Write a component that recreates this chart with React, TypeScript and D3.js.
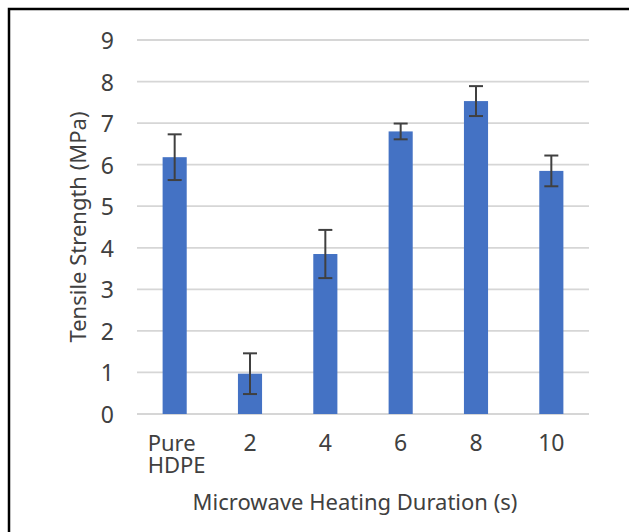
import React from "react";
import { scaleBand, scaleLinear } from "d3";

const categories = ["Pure HDPE", "2", "4", "6", "8", "10"];
const strength = [6.18, 0.97, 3.85, 6.8, 7.53, 5.85];
const errors = [0.55, 0.49, 0.58, 0.19, 0.36, 0.37];
const yTicks = [0, 1, 2, 3, 4, 5, 6, 7, 8, 9];

const W = 629;
const H = 532;
const margin = { top: 40, right: 40, bottom: 118, left: 137 };

export default function App() {
  const x = scaleBand()
    .domain(categories)
    .range([margin.left, W - margin.right])
    .paddingInner(0.68)
    .paddingOuter(0.34);

  const y = scaleLinear()
    .domain([0, 9])
    .range([H - margin.bottom, margin.top]);

  const font = "'Noto Sans', 'Open Sans', sans-serif";
  const textColor = "#404040";
  const capW = 7;

  return (
    <svg
      width={W}
      height={H}
      style={{ position: "absolute", left: 0, top: 0, background: "#fff" }}
      fontFamily={font}
    >
      {/* frame, cropped on right and bottom */}
      <rect x={9} y={9} width={W + 20} height={H + 20} fill="none" stroke="#000" strokeWidth={2.5} />

      {/* gridlines */}
      {yTicks.map((t) => (
        <line
          key={t}
          x1={margin.left}
          x2={W - margin.right}
          y1={y(t)}
          y2={y(t)}
          stroke="#d6d6d6"
          strokeWidth={1.8}
        />
      ))}

      {/* y tick labels */}
      {yTicks.map((t) => (
        <text
          key={t}
          x={114}
          y={y(t)}
          textAnchor="end"
          dominantBaseline="central"
          fontSize={23}
          fill={textColor}
        >
          {t}
        </text>
      ))}

      {/* bars */}
      {categories.map((c, i) => (
        <rect
          key={c}
          x={x(c)}
          y={y(strength[i])}
          width={x.bandwidth()}
          height={y(0) - y(strength[i])}
          fill="#4472C4"
        />
      ))}

      {/* error bars */}
      {categories.map((c, i) => {
        const cx = (x(c) ?? 0) + x.bandwidth() / 2;
        const hi = y(strength[i] + errors[i]);
        const lo = y(strength[i] - errors[i]);
        return (
          <g key={c} stroke="#404040" strokeWidth={2}>
            <line x1={cx} x2={cx} y1={hi} y2={lo} />
            <line x1={cx - capW} x2={cx + capW} y1={hi} y2={hi} />
            <line x1={cx - capW} x2={cx + capW} y1={lo} y2={lo} />
          </g>
        );
      })}

      {/* x tick labels */}
      {categories.map((c) => {
        const cx = (x(c) ?? 0) + x.bandwidth() / 2;
        const parts = c.split(" ");
        if (parts.length > 1) {
          return (
            <text key={c} fontSize={22} fill={textColor}>
              {parts.map((p, j) => (
                <tspan key={p} x={cx - 27} y={451 + j * 22}>
                  {p}
                </tspan>
              ))}
            </text>
          );
        }
        return (
          <text key={c} x={cx} y={451} textAnchor="middle" fontSize={23} fill={textColor}>
            {c}
          </text>
        );
      })}

      {/* axis titles */}
      <text x={355} y={510} textAnchor="middle" fontSize={22} fill={textColor}>
        Microwave Heating Duration (s)
      </text>
      <text
        transform={`translate(86,${(y(0) + y(9)) / 2}) rotate(-90)`}
        textAnchor="middle"
        fontSize={22}
        fill={textColor}
      >
        Tensile Strength (MPa)
      </text>
    </svg>
  );
}
